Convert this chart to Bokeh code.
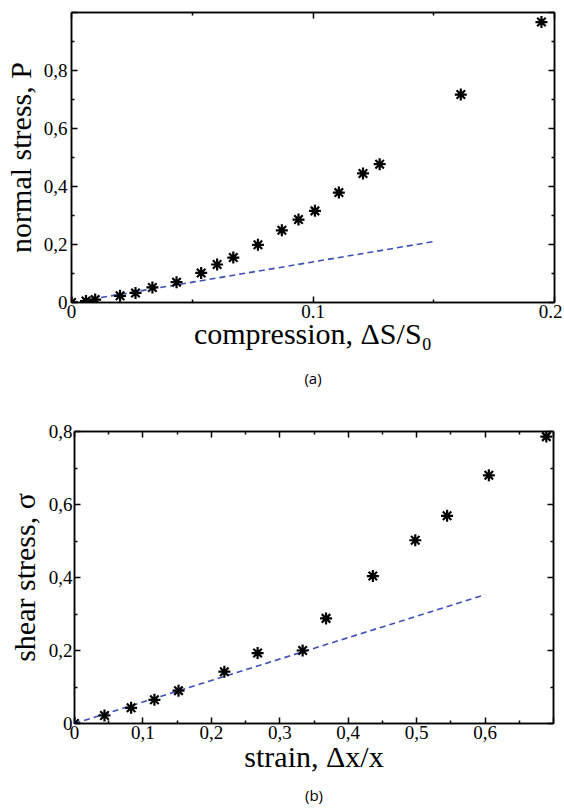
from bokeh.plotting import figure
from bokeh.models import (FixedTicker, LinearAxis, Title, Range1d,
                          CustomJSTickFormatter, CustomLabelingPolicy)
from bokeh.layouts import column, row
from bokeh.embed import file_html
from bokeh.resources import INLINE

# ---------------- data: panel (a) ----------------
a_compression = [0, 0.006, 0.0098, 0.0201, 0.0265, 0.0335, 0.0435, 0.0537, 0.0603,
                 0.0670, 0.0772, 0.0871, 0.0940, 0.1008, 0.1107, 0.1207, 0.1276,
                 0.1612, 0.1946]
a_stress = [0, 0.005, 0.010, 0.023, 0.033, 0.052, 0.070, 0.102, 0.131,
            0.155, 0.199, 0.249, 0.286, 0.316, 0.379, 0.445, 0.477,
            0.717, 0.967]
a_fit_x = [0, 0.15]
a_fit_y = [0, 0.21]
a_xticks = [0, 0.1, 0.2]
a_xlabels = ["0", "0.1", "0.2"]
a_xminor = [0.05, 0.15]
a_yticks = [0, 0.2, 0.4, 0.6, 0.8, 1.0]
a_ylabels = ["0", "0,2", "0,4", "0,6", "0,8", ""]
a_yminor = [0.1, 0.3, 0.5, 0.7, 0.9]

# ---------------- data: panel (b) ----------------
b_strain = [0, 0.0438, 0.0827, 0.1168, 0.152, 0.219, 0.2676, 0.3334, 0.3676,
            0.436, 0.498, 0.5445, 0.6055, 0.6895]
b_stress = [0, 0.022, 0.043, 0.065, 0.090, 0.142, 0.193, 0.200, 0.288,
            0.404, 0.502, 0.569, 0.680, 0.786]
b_fit_x = [0, 0.6]
b_fit_y = [0, 0.353]
b_xticks = [0, 0.1, 0.2, 0.3, 0.4, 0.5, 0.6, 0.7]
b_xlabels = ["0", "0,1", "0,2", "0,3", "0,4", "0,5", "0,6", ""]
b_xminor = [0.05, 0.15, 0.25, 0.35, 0.45, 0.55, 0.65]
b_yticks = [0, 0.2, 0.4, 0.6, 0.8]
b_ylabels = ["0", "0,2", "0,4", "0,6", "0,8"]
b_yminor = [0.1, 0.3, 0.5, 0.7]

SERIF = "Liberation Serif"
DASH_COLOR = "#3d4fb8"

LABEL_CODE = """
let best = -1;
for (let i = 0; i < tvals.length; i++) {
  if (Math.abs(tvals[i] - tick) < 1e-9) { best = i; }
}
return best >= 0 ? tlabs[best] : "";
"""

HIDE_ALL = """
const n = indices.size;
for (let i = 0; i < n; i++) { indices.unset(i); }
return indices;
"""


def style_axis(ax, ticks, labels, minor, show_labels=True):
    ax.ticker = FixedTicker(ticks=ticks, minor_ticks=minor)
    ax.axis_line_color = "black"
    ax.axis_line_width = 1.5
    ax.major_tick_in = 6
    ax.major_tick_out = 0
    ax.minor_tick_in = 3
    ax.minor_tick_out = 0
    ax.major_tick_line_width = 1.5
    ax.minor_tick_line_width = 1.5
    if show_labels:
        ax.formatter = CustomJSTickFormatter(args=dict(tvals=ticks, tlabs=labels),
                                             code=LABEL_CODE)
        ax.major_label_text_font = SERIF
        ax.major_label_text_font_size = "19px"
        ax.major_label_text_color = "black"
    else:
        ax.major_label_policy = CustomLabelingPolicy(code=HIDE_ALL)
        ax.major_label_text_font_size = "1px"
        ax.major_label_standoff = 0


def make_panel(xs, ys, fx, fy, xr, yr, xt, xl, xm, yt, yl, ym,
               xlabel, ylabel, caption, fw, fh, bl, bt, br, bb,
               ystand, ylab_stand, xlab_stand, cap_stand):
    p = figure(frame_width=fw, frame_height=fh, x_range=Range1d(*xr), y_range=Range1d(*yr),
               output_backend="svg", toolbar_location=None,
               min_border_left=bl, min_border_top=bt, min_border_right=br,
               min_border_bottom=bb)
    p.grid.visible = False
    p.outline_line_color = "black"
    p.outline_line_width = 1.5
    p.background_fill_color = "white"
    p.border_fill_color = "white"

    style_axis(p.xaxis[0], xt, xl, xm)
    style_axis(p.yaxis[0], yt, yl, ym)
    p.xaxis[0].major_label_standoff = 2
    p.yaxis[0].major_label_standoff = ystand

    for ax, lab in ((p.xaxis[0], xlabel), (p.yaxis[0], ylabel)):
        ax.axis_label = lab
        ax.axis_label_text_font = SERIF
        ax.axis_label_text_font_size = "30px"
        ax.axis_label_text_font_style = "normal"
        ax.axis_label_text_color = "black"
    p.xaxis[0].axis_label_standoff = xlab_stand
    p.yaxis[0].axis_label_standoff = ylab_stand

    top = LinearAxis()
    style_axis(top, xt, xl, xm, show_labels=False)
    p.add_layout(top, "above")
    right = LinearAxis()
    style_axis(right, yt, yl, ym, show_labels=False)
    p.add_layout(right, "right")

    p.line(fx, fy, line_color=DASH_COLOR, line_dash="6 4", line_width=1.6)
    p.scatter(xs, ys, marker="asterisk", size=12, line_color="black", line_width=2.2)

    cap = Title(text=caption, align="center", text_font="Open Sans",
                text_font_size="15px", text_font_style="normal", text_color="black",
                standoff=cap_stand)
    p.add_layout(cap, "below")
    return p


p1 = make_panel(a_compression, a_stress, a_fit_x, a_fit_y, (0, 0.2), (0, 1.0),
                a_xticks, a_xlabels, a_xminor, a_yticks, a_ylabels, a_yminor,
                "compression, ΔS/S₀", "normal stress, P", "(a)",
                483, 290, 67, 12, 8, 92, 4, 4, -4, 27)
p2 = make_panel(b_strain, b_stress, b_fit_x, b_fit_y, (0, 0.7), (0, 0.8),
                b_xticks, b_xlabels, b_xminor, b_yticks, b_ylabels, b_yminor,
                "strain, Δx/x", "shear stress, σ", "(b)",
                479, 292, 74, 30, 4, 84, 2, 5, -2, 14)

layout = column(row(p1), row(p2), spacing=0)
open("out.html", "w").write(file_html(layout, INLINE))
